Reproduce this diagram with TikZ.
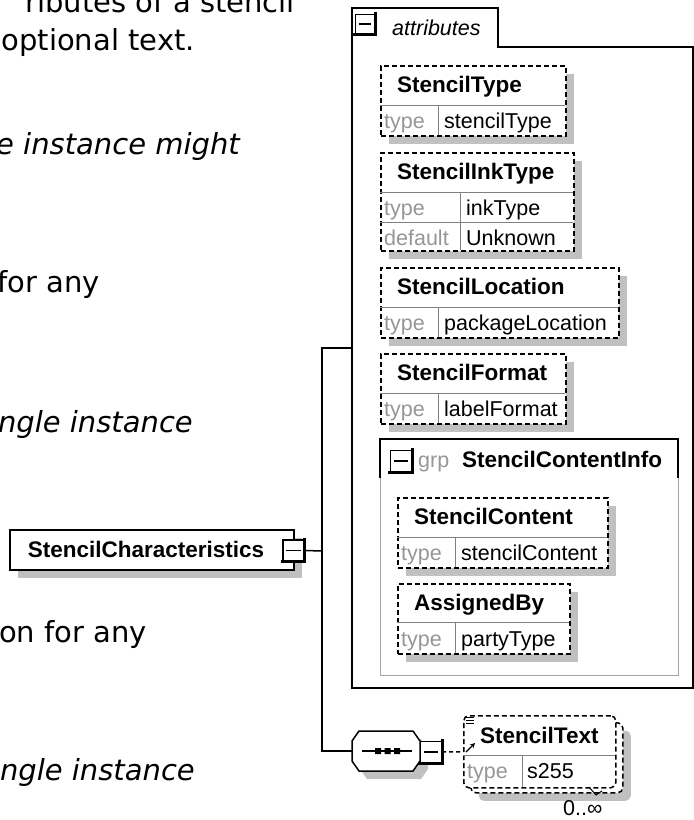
\documentclass[tikz,border=0pt]{standalone}
\usepackage{fontspec}
\setmainfont{DejaVu Sans}
\newfontfamily\xsdfont{Liberation Sans}
\usetikzlibrary{
  shadows,
  arrows.meta
}
\definecolor{xsdshadow}{RGB}{192,192,192}
\definecolor{xsdlabel}{RGB}{150,150,150}
\definecolor{xsdrule}{RGB}{128,128,128}

\begin{document}
\begin{tikzpicture}[
  x=1pt, y=-1pt,
  prose/.style={anchor=base east, inner sep=0, font=\fontsize{29}{34}\selectfont},
  proseit/.style={prose, font=\fontsize{29}{34}\selectfont\itshape},
  elname/.style={anchor=base west, inner sep=0,
    font=\xsdfont\bfseries\fontsize{22.5}{26}\selectfont},
  proplbl/.style={anchor=base west, inner sep=0, text=xsdlabel,
    font=\xsdfont\fontsize{21.5}{25}\selectfont},
  propval/.style={proplbl, text=black},
  shadowed/.style={drop shadow={shadow xshift=8pt, shadow yshift=-8pt,
    fill=xsdshadow, opacity=1}},
  attrbox/.style={
    rectangle, draw, fill=white, line width=1.5,
    dash pattern=on 5pt off 3pt, anchor=north west, inner sep=0
  },
  rootbox/.style={
    rectangle, draw, fill=white, line width=1.5, anchor=north west,
    minimum height=40, text width=248, inner xsep=18, align=left,
    font=\xsdfont\bfseries\fontsize{22.5}{26}\selectfont
  },
  grpbox/.style={rectangle, draw=xsdrule!70, line width=1.4, anchor=north west, inner sep=0},
  seqanchor/.style={rectangle, minimum width=68, minimum height=40, inner sep=0},
  togglebtn/.style={
    rectangle, draw, fill=white, line width=1.4, minimum size=21, inner sep=0,
    append after command={
      \pgfextra{\let\btn\tikzlastnode}
      ([xshift=4pt]\btn.west) edge[line width=1.5] ([xshift=-4pt]\btn.east)
      ([yshift=1.5pt]\btn.north east) edge[line width=3.2] ([yshift=-1.5pt]\btn.south east)
      ([xshift=-1.5pt]\btn.south west) edge[line width=3.2] ([xshift=1.5pt]\btn.south east)
    }
  },
  divider/.style={draw=xsdrule, line width=1},
  wire/.style={line width=1.5}
]
  \useasboundingbox (0,0) rectangle (694,820);

  % prose of the page, cut off at the left edge
  \node[prose]   (p1) at (295,12)  {ributes of a stencil};
  \node[prose]   (p2) at (195,50)  {optional text.};
  \node[proseit] (p3) at (240,154) {e instance might};
  \node[prose]   (p4) at (100,292) {for any};
  \node[proseit] (p5) at (193,432) {ngle instance};
  \node[prose]   (p6) at (147,642) {on for any};
  \node[proseit] (p7) at (195,780) {ingle instance};

  % attributes container
  \draw[wire] (352,688) |- (498,8) |- (693,47) -- (693,688) -- cycle;
  \node[togglebtn, minimum size=19] (attrbtn) at (365,24) {};
  \node[anchor=base west, inner sep=0, font=\xsdfont\itshape\fontsize{21.5}{25}\selectfont]
    (attrlbl) at (392,35) {attributes};

  % StencilType
  \node[attrbox, shadowed, minimum width=185, minimum height=70] (stype) at (380,65) {};
  \draw[divider] (380,105) -- (565,105) (438,105) -- (438,135);
  \node[elname]   (stypename) at (397,92)  {StencilType};
  \node[proplbl]  (stypetl)   at (384,128) {type};
  \node[propval]  (stypetv)   at (444,128) {stencilType};

  % StencilInkType
  \node[attrbox, shadowed, minimum width=193, minimum height=98] (sink) at (380,152) {};
  \draw[divider] (380,192) -- (573,192) (380,222) -- (573,222) (460,192) -- (460,250);
  \node[elname]   (sinkname) at (397,179) {StencilInkType};
  \node[proplbl]  (sinktl)   at (384,215) {type};
  \node[propval]  (sinktv)   at (466,215) {inkType};
  \node[proplbl]  (sinkdl)   at (384,245) {default};
  \node[propval]  (sinkdv)   at (466,245) {Unknown};

  % StencilLocation
  \node[attrbox, shadowed, minimum width=238, minimum height=70] (sloc) at (380,267) {};
  \draw[divider] (380,307) -- (618,307) (438,307) -- (438,337);
  \node[elname]   (slocname) at (397,294) {StencilLocation};
  \node[proplbl]  (sloctl)   at (384,330) {type};
  \node[propval]  (sloctv)   at (444,330) {packageLocation};

  % StencilFormat
  \node[attrbox, shadowed, minimum width=185, minimum height=70] (sfmt) at (380,353) {};
  \draw[divider] (380,393) -- (565,393) (438,393) -- (438,423);
  \node[elname]   (sfmtname) at (397,380) {StencilFormat};
  \node[proplbl]  (sfmttl)   at (384,416) {type};
  \node[propval]  (sfmttv)   at (444,416) {labelFormat};

  % group StencilContentInfo
  \node[grpbox, minimum width=298, minimum height=236] (grp) at (380,439) {};
  \draw[wire] (380,478) |- (678,439) -- (678,478);
  \node[togglebtn] (grpbtn) at (401,461) {};
  \node[proplbl] (grplbl)  at (418,467) {grp};
  \node[elname]  (grpname) at (462,467) {StencilContentInfo};

  \node[attrbox, shadowed, minimum width=210, minimum height=70] (scont) at (397,497) {};
  \draw[divider] (397,537) -- (607,537) (455,537) -- (455,567);
  \node[elname]   (scontname) at (414,524) {StencilContent};
  \node[proplbl]  (sconttl)   at (401,560) {type};
  \node[propval]  (sconttv)   at (461,560) {stencilContent};

  \node[attrbox, shadowed, minimum width=172, minimum height=70] (asgn) at (397,583) {};
  \draw[divider] (397,622) -- (569,622) (455,622) -- (455,653);
  \node[elname]   (asgnname) at (414,610) {AssignedBy};
  \node[proplbl]  (asgntl)   at (401,646) {type};
  \node[propval]  (asgntv)   at (461,646) {partyType};

  % root element
  \node[rootbox, shadowed] (root) at (9,529) {StencilCharacteristics};
  \node[togglebtn] (rootbtn) at (293.5,550.5) {};

  % sequence and StencilText
  \node[seqanchor] (seq) at (386,751) {};
  \draw[wire, fill=white, shadowed] (352,741) -- (359,731) -- (413,731) -- (420,741)
    -- (420,761) -- (413,771) -- (359,771) -- (352,761) -- cycle;
  \draw[wire] (362,751) -- (412,751);
  \fill (375,748) rectangle ++(6,6) (384.5,748) rectangle ++(6,6) (394,748) rectangle ++(6,6);
  \node[togglebtn] (seqbtn) at (431,752) {};

  \node[attrbox, shadowed, rounded corners=5pt, minimum width=152, minimum height=70]
    (stextback) at (470,722) {};
  \node[attrbox, rounded corners=5pt, minimum width=152, minimum height=72] (stext) at (463,715) {};
  \draw[divider] (463,755) -- (615,755) (522,755) -- (522,787);
  \draw[line width=1] (466,717) -- (474,717) (466,720) -- (474,720) (466,723) -- (474,723);
  \draw[-{Stealth[length=5pt,width=5pt]}, line width=1.3] (466,752) -- (475,743);
  \node[elname]   (stextname) at (480,743) {StencilText};
  \node[proplbl]  (stexttl)   at (467,778) {type};
  \node[propval]  (stexttv)   at (527,778) {s255};
  \draw[line width=1] (589,787) -- (596,795) -- (602,791);
  \node[propval] (occurs) at (563,815) {0..∞};

  % connectors
  \coordinate (trunk) at (322,551);
  \coordinate (attrjoin) at (352,348);
  \draw[wire] (rootbtn.east) -- (trunk);
  \draw[wire] (trunk) |- (attrjoin);
  \draw[wire] (trunk) |- (seq.west);
  \draw[wire, dash pattern=on 4pt off 3pt] (seqbtn.east) -- (stext.west);
\end{tikzpicture}
\end{document}
